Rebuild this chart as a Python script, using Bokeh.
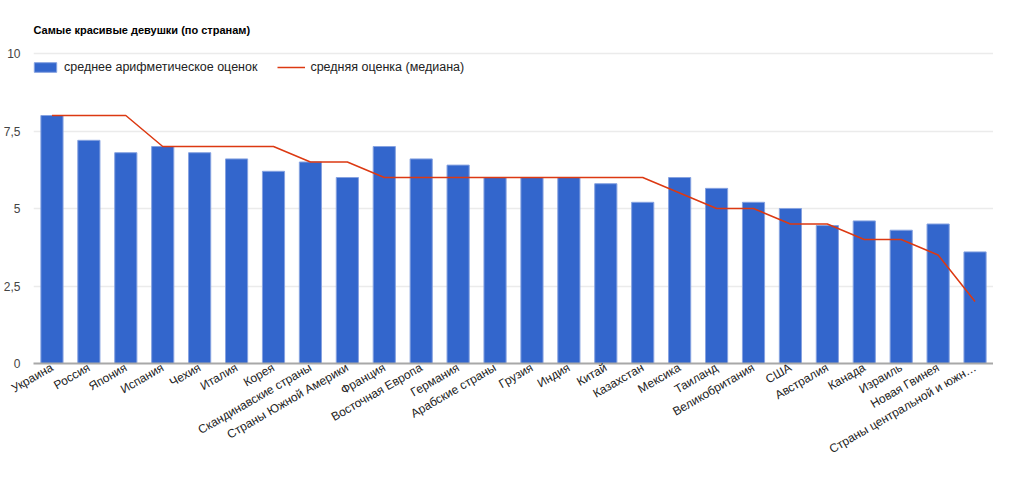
import math
from bokeh.plotting import figure
from bokeh.models import (FactorRange, Range1d, FixedTicker, CustomJSTickFormatter,
                          Legend, LegendItem, ColumnDataSource)
from bokeh.embed import file_html
from bokeh.resources import INLINE

title_text = "Самые красивые девушки (по странам)"
series_mean_name = "среднее арифметическое оценок"
series_median_name = "средняя оценка (медиана)"

categories = ["Украина", "Россия", "Япония", "Испания", "Чехия", "Италия", "Корея",
              "Скандинавские страны", "Страны Южной Америки", "Франция", "Восточная Европа",
              "Германия", "Арабские страны", "Грузия", "Индия", "Китай", "Казахстан",
              "Мексика", "Таиланд", "Великобритания", "США", "Австралия", "Канада",
              "Израиль", "Новая Гвинея", "Страны центральной и южн…"]
means = [8.0, 7.2, 6.8, 7.0, 6.8, 6.6, 6.2, 6.5, 6.0, 7.0, 6.6, 6.4, 6.0, 6.0, 6.0,
         5.8, 5.2, 6.0, 5.65, 5.2, 5.0, 4.45, 4.6, 4.3, 4.5, 3.6]
medians = [8, 8, 8, 7, 7, 7, 7, 6.5, 6.5, 6, 6, 6, 6, 6, 6, 6, 6, 5.5, 5, 5, 4.5, 4.5,
           4, 4, 3.5, 2]
y_ticks = [0, 2.5, 5, 7.5, 10]

FONT = "Liberation Sans"

src = ColumnDataSource(dict(cat=categories, mean=means, median=medians))

p = figure(x_range=FactorRange(factors=categories, range_padding=0),
           y_range=Range1d(0, 10.42),
           width=993, height=465, output_backend="svg", toolbar_location=None,
           min_border_left=0, min_border_right=0, min_border_top=40, min_border_bottom=0)

p.title.text = title_text
p.title.text_font = FONT
p.title.text_font_size = "11px"
p.title.text_font_style = "bold"
p.title.text_color = "#000000"
p.title.align = "left"
p.title.standoff = 10

p.outline_line_color = None
p.background_fill_color = "white"
p.border_fill_color = "white"

p.xgrid.visible = False
p.ygrid.ticker = FixedTicker(ticks=y_ticks)
p.ygrid.grid_line_color = "#ebebeb"
p.ygrid.grid_line_width = 1.5

p.yaxis.ticker = FixedTicker(ticks=y_ticks)
p.yaxis.formatter = CustomJSTickFormatter(code="return tick.toString().replace('.', ',')")
p.yaxis.axis_line_color = None
p.yaxis.major_tick_line_color = None
p.yaxis.minor_tick_line_color = None
p.yaxis.major_tick_out = 0
p.yaxis.major_label_standoff = 13
p.yaxis.major_label_text_font = FONT
p.yaxis.major_label_text_font_size = "12px"
p.yaxis.major_label_text_color = "#444444"

p.xaxis.axis_line_color = "#a8a8a8"
p.xaxis.axis_line_width = 2
p.xaxis.major_tick_line_color = None
p.xaxis.minor_tick_line_color = None
p.xaxis.major_tick_out = 0
p.xaxis.major_label_orientation = math.pi / 6
p.xaxis.major_label_standoff = 3
p.xaxis.major_label_text_font = FONT
p.xaxis.major_label_text_font_size = "12px"
p.xaxis.major_label_text_line_height = 0.8
p.xaxis.major_label_text_color = "#222222"

bars = p.vbar(x="cat", top="mean", width=0.6, source=src,
              fill_color="#3366cc", line_color="#86a2e0", line_width=1)
line = p.line(x="cat", y="median", source=src, line_color="#dc3912", line_width=1.5)

legend = Legend(items=[LegendItem(label=series_mean_name, renderers=[bars]),
                       LegendItem(label=series_median_name, renderers=[line])],
                orientation="horizontal", location=(-2, 289),
                glyph_width=28, glyph_height=12, label_height=12,
                label_standoff=5, spacing=20, padding=0, margin=0,
                border_line_color=None, background_fill_alpha=0,
                label_text_font=FONT, label_text_font_size="12.5px",
                label_text_color="#222222")
p.add_layout(legend)

open("out.html", "w").write(file_html(p, INLINE))
